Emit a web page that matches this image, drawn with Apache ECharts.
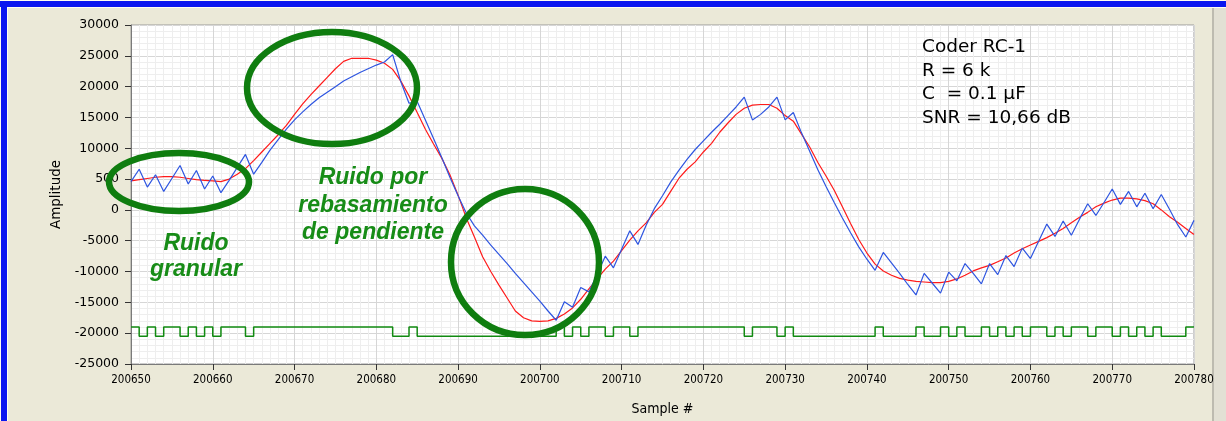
<!DOCTYPE html>
<html>
<head>
<meta charset="utf-8">
<style>
  html, body { margin: 0; padding: 0; background: #fffdf2; }
  #frame { position: absolute; left: 0; top: 0; width: 1226px; height: 421px; overflow: hidden; }
  #panel { position: absolute; left: 8px; top: 8px; width: 1218px; height: 413px; background: #ebe9d8; }
  #sideBar { position: absolute; left: 1212px; top: 8px; width: 14px; height: 413px; background: #e2e0d4; border-left: 2px solid #bdbbb0; }
  #blueTop { position: absolute; left: 0px; top: 1px; width: 1226px; height: 6px; background: #0b16f0; }
  #blueLeft { position: absolute; left: 1px; top: 1px; width: 6px; height: 420px; background: #0b16f0; }
  #chart { position: absolute; left: 0; top: 0; width: 1226px; height: 421px; }
</style>
<script src="https://cdn.jsdelivr.net/npm/echarts@6/dist/echarts.min.js"></script>
</head>
<body>
<div id="frame">
  <div id="panel"></div>
  <div id="sideBar"></div>
  <div id="blueTop"></div>
  <div id="blueLeft"></div>
  <div id="chart"></div>
</div>
<script>
// ---------- data ----------
const firstSample = 200650;
const lastSample = 200780;
const xTickStep = 10;

const yTickValues = [-25000, -20000, -15000, -10000, -5000, 0, 5000, 10000, 15000, 20000, 25000, 30000];
const yTickLabels = ['-25000', '-20000', '-15000', '-10000', '-5000', '0', '500', '10000', '15000', '20000', '25000', '30000'];

// coder output (blue), one value per sample
const coderOutput = [
  4600, 6600, 3700, 5700, 3000, 5100, 7200, 4200, 6400, 3400,
  5500, 2800, 4800, 6900, 9000, 5800, 7700, 9700, 11400, 13100,
  14600, 15900, 17100, 18200, 19100, 20000, 20900, 21600, 22300, 22900,
  23500, 24000, 25200, 20800, 17300, 17600, 14600, 11600, 8500, 5300,
  2300, -500, -2600, -4100, -5700, -7200, -8700, -10300, -11800, -13300,
  -14800, -16400, -17900, -14900, -15800, -12600, -13300, -10500, -7500, -9400,
  -6400, -3400, -5600, -2500, 200, 2300, 4500, 6400, 8200, 9800,
  11200, 12600, 13900, 15300, 16700, 18300, 14600, 15500, 16700, 18300,
  14600, 15800, 12500, 9500, 6500, 3800, 1200, -1300, -3700, -6000,
  -8000, -9800, -6900, -8600, -10300, -12100, -13800, -10300, -11900, -13500,
  -10100, -11500, -8700, -10300, -12000, -8700, -10500, -7400, -9200, -6200,
  -7900, -5100, -2300, -4300, -1800, -4100, -1500, 1000, -900, 1200,
  3400, 900, 3000, 500, 2700, 200, 2500, 100, -2400, -4400,
  -1700
];

// input signal (red), one value per sample
const inputSignal = [
  4700, 4900, 5100, 5300, 5400, 5400, 5300, 5100, 4900, 4800,
  4700, 4600, 5000, 5800, 6700, 8000, 9400, 10800, 12200, 13700,
  15500, 17200, 18700, 20100, 21500, 22900, 24100, 24600, 24600, 24600,
  24300, 23800, 22800, 20900, 18500, 15800, 13100, 10700, 8400, 5700,
  2400, -1300, -4400, -7600, -10000, -12200, -14300, -16400, -17500, -18000,
  -18100, -18000, -17600, -16900, -15900, -14500, -12800, -11200, -9600, -8300,
  -6600, -4900, -3400, -2100, -400, 900, 3000, 5100, 6600, 7800,
  9400, 10800, 12600, 14100, 15500, 16500, 17000, 17100, 17100, 16500,
  15300, 14400, 12300, 10200, 7700, 5500, 3200, 500, -2200, -4800,
  -7000, -8800, -9900, -10600, -11100, -11400, -11600, -11700, -11800, -11800,
  -11600, -11200, -10600, -9900, -9400, -9000, -8400, -7800, -7000, -6300,
  -5700, -5100, -4500, -3800, -3000, -2100, -1200, -400, 500, 1100,
  1600, 1900, 1900, 1800, 1500, 1000, 0, -1100, -2000, -3000,
  -4000
];

// delta bit stream (green): bit i holds from sample i to i+1
const bitStream = [
  1,0,1,0,1,1,0,1,0,1,
  0,1,1,1,0,1,1,1,1,1,
  1,1,1,1,1,1,1,1,1,1,
  1,1,0,0,1,0,0,0,0,0,
  0,0,0,0,0,0,0,0,0,0,
  0,0,1,0,1,0,1,1,0,1,
  1,0,1,1,1,1,1,1,1,1,
  1,1,1,1,1,0,1,1,1,0,
  1,0,0,0,0,0,0,0,0,0,
  0,1,0,0,0,0,1,0,0,1,
  0,1,0,0,1,0,1,0,1,0,
  1,1,0,1,0,1,1,0,1,1,
  0,1,0,1,0,1,0,0,0,1
];
const bitLevels = [-20500, -19000]; // level for bit 0, bit 1

const infoLines = ['Coder RC-1', 'R = 6 k', 'C  = 0.1 \u00b5F', 'SNR = 10,66 dB'];
const noteGranular = ['Ruido', 'granular'];
const noteSlope = ['Ruido por', 'rebasamiento', 'de pendiente'];

// ---------- build ----------
const bluePts = coderOutput.map((v, i) => [firstSample + i, v]);
const redPts = inputSignal.map((v, i) => [firstSample + i, v]);
const bitPts = bitStream.map((b, i) => [firstSample + i, bitLevels[b]]);
bitPts.push([firstSample + bitStream.length, bitLevels[bitStream[bitStream.length - 1]]]);

const chart = echarts.init(document.getElementById('chart'), null, { renderer: 'canvas' });

const narrow = "'Liberation Sans Narrow', 'DejaVu Sans Condensed', 'Liberation Sans', sans-serif";
const green = '#0f7d0f';
const textGreen = '#178c17';

const option = {
  animation: false,
  backgroundColor: 'transparent',
  grid: { left: 131, top: 25, width: 1063, height: 344, show: true, backgroundColor: '#ffffff', borderColor: '#9a9a9a', borderWidth: 1 },
  xAxis: {
    type: 'value', min: firstSample, max: lastSample, interval: xTickStep,
    name: 'Sample #', nameLocation: 'middle', nameGap: 38,
    nameTextStyle: { fontFamily: narrow, fontSize: 14, color: '#000' },
    axisLine: { show: true, onZero: false, lineStyle: { color: '#7a7a7a' } },
    axisTick: { show: true, length: 6, lineStyle: { color: '#333' } },
    axisLabel: { fontFamily: narrow, fontSize: 11.5, color: '#000', margin: 10, formatter: v => String(v) },
    splitLine: { show: true, lineStyle: { color: '#d6d6d6', width: 1 } },
    minorTick: { show: false, splitNumber: 10 },
    minorSplitLine: { show: true, lineStyle: { color: '#eeeeee', width: 1 } }
  },
  yAxis: {
    type: 'value', min: -25000, max: 30000, interval: 5000,
    name: 'Amplitude', nameLocation: 'middle', nameGap: 66, nameRotate: 90,
    nameTextStyle: { fontFamily: 'DejaVu Sans', fontSize: 13.5, color: '#000' },
    axisLine: { show: true, onZero: false, lineStyle: { color: '#7a7a7a' } },
    axisTick: { show: true, length: 6, lineStyle: { color: '#333' } },
    axisLabel: {
      fontFamily: 'DejaVu Sans', fontSize: 12.5, color: '#000', margin: 12,
      formatter: v => { const k = yTickValues.indexOf(v); return k >= 0 ? yTickLabels[k] : ''; }
    },
    splitLine: { show: true, lineStyle: { color: '#d6d6d6', width: 1 } },
    minorTick: { show: false, splitNumber: 5 },
    minorSplitLine: { show: true, lineStyle: { color: '#eeeeee', width: 1 } }
  },
  series: [
    { name: 'bits', type: 'line', step: 'end', data: bitPts, showSymbol: false, lineStyle: { color: '#118a11', width: 1.5 }, z: 2 },
    { name: 'input', type: 'line', data: redPts, showSymbol: false, lineStyle: { color: '#ff1a1a', width: 1.2 }, z: 3 },
    { name: 'coder', type: 'line', data: bluePts, showSymbol: false, lineStyle: { color: '#2e55e0', width: 1.2 }, z: 4 }
  ],
  graphic: []
};
chart.setOption(option);

// annotations
const g = [];
const ellipses = [
  { cx: 179, cy: 182, rx: 70, ry: 29 },
  { cx: 332, cy: 88, rx: 85, ry: 56 },
  { cx: 525, cy: 262, rx: 74, ry: 73 }
];
ellipses.forEach(e => g.push({ type: 'ellipse', shape: e, style: { fill: null, stroke: green, lineWidth: 6.5 }, z: 100 }));
infoLines.forEach((t, i) => g.push({ type: 'text', left: 922, top: 38 + i * 23.5, style: { text: t, font: '18.5px "DejaVu Sans"', fill: '#000' }, z: 100 }));
noteGranular.forEach((t, i) => g.push({ type: 'text', x: 196, y: 244 + i * 26, style: { text: t, font: 'italic bold 23px "Liberation Sans"', fill: textGreen, align: 'center', verticalAlign: 'middle' }, z: 100 }));
noteSlope.forEach((t, i) => g.push({ type: 'text', x: 373, y: 178 + i * 27.5, style: { text: t, font: 'italic bold 23px "Liberation Sans"', fill: textGreen, align: 'center', verticalAlign: 'middle' }, z: 100 }));
chart.setOption({ graphic: g });
</script>
</body>
</html>
